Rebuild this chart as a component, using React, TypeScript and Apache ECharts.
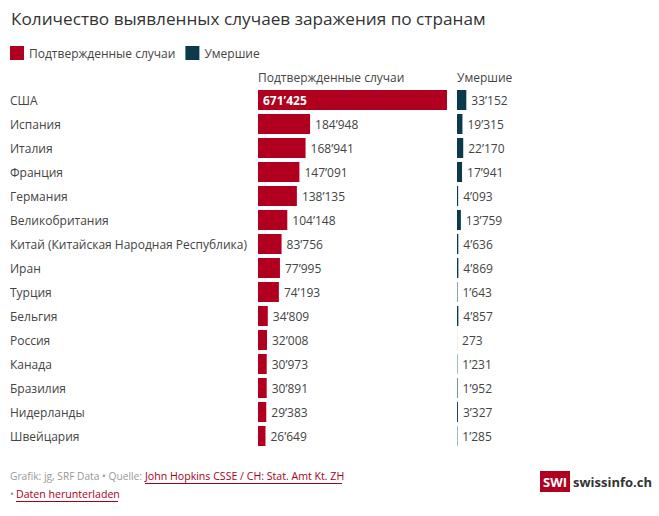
import React, { useEffect, useRef } from "react";
import * as echarts from "echarts";

const countries = [
  "США",
  "Испания",
  "Италия",
  "Франция",
  "Германия",
  "Великобритания",
  "Китай (Китайская Народная Республика)",
  "Иран",
  "Турция",
  "Бельгия",
  "Россия",
  "Канада",
  "Бразилия",
  "Нидерланды",
  "Швейцария",
];
const confirmed = [671425, 184948, 168941, 147091, 138135, 104148, 83756, 77995, 74193, 34809, 32008, 30973, 30891, 29383, 26649];
const deaths = [33152, 19315, 22170, 17941, 4093, 13759, 4636, 4869, 1643, 4857, 273, 1231, 1952, 3327, 1285];

const seriesNames = ["Подтвержденные случаи", "Умершие"];
const title = "Количество выявленных случаев заражения по странам";

const RED = "#b1001f";
const DARK = "#0b3a4b";
const FONT = "'Open Sans', sans-serif";

const fmt = (v: number) => String(v).replace(/\B(?=(\d{3})+(?!\d))/g, "’");

export default function App() {
  const ref = useRef<HTMLDivElement>(null);
  useEffect(() => {
    if (!ref.current) return;
    const chart = echarts.init(ref.current, undefined, { renderer: "svg" });
    const maxVal = Math.max(...confirmed);
    const gridTop = 88;
    const gridH = countries.length * 24;
    const footFont = `10.6px ${FONT}`;
    chart.setOption({
      animation: false,
      textStyle: { fontFamily: FONT },
      title: {
        text: title,
        left: 6,
        top: 5,
        textStyle: { fontFamily: FONT, fontSize: 17.2, fontWeight: "normal", color: "#333" },
      },
      legend: {
        left: 5,
        top: 41,
        itemWidth: 14,
        itemHeight: 14,
        itemGap: 10,
        icon: "rect",
        textStyle: { fontFamily: FONT, fontSize: 12, color: "#444" },
        data: seriesNames,
      },
      grid: [
        { left: 258, top: gridTop, width: 189, height: gridH },
        { left: 457, top: gridTop, width: 189, height: gridH },
      ],
      xAxis: [
        { type: "value", gridIndex: 0, min: 0, max: maxVal, show: false },
        { type: "value", gridIndex: 1, min: 0, max: maxVal, show: false },
      ],
      yAxis: [
        {
          type: "category",
          gridIndex: 0,
          data: countries,
          inverse: true,
          axisLine: { show: false },
          axisTick: { show: false },
          axisLabel: {
            align: "left",
            margin: 248,
            fontFamily: FONT,
            fontSize: 12,
            color: "#444",
          },
        },
        {
          type: "category",
          gridIndex: 1,
          data: countries,
          inverse: true,
          show: false,
        },
      ],
      series: [
        {
          name: seriesNames[0],
          type: "bar",
          xAxisIndex: 0,
          yAxisIndex: 0,
          barWidth: 20,
          itemStyle: { color: RED },
          label: {
            show: true,
            position: "right",
            distance: 5,
            fontFamily: FONT,
            fontSize: 12,
            color: "#444",
            formatter: (p: any) => fmt(p.value),
          },
          data: confirmed.map((v, i) =>
            i === 0
              ? {
                  value: v,
                  label: {
                    position: "insideLeft",
                    distance: 5,
                    color: "#fff",
                    fontWeight: "bold",
                  },
                }
              : v
          ),
        },
        {
          name: seriesNames[1],
          type: "bar",
          xAxisIndex: 1,
          yAxisIndex: 1,
          barWidth: 20,
          itemStyle: { color: DARK },
          label: {
            show: true,
            position: "right",
            distance: 5,
            fontFamily: FONT,
            fontSize: 12,
            color: "#444",
            formatter: (p: any) => fmt(p.value),
          },
          data: deaths,
        },
      ],
      graphic: [
        {
          type: "text",
          left: 258,
          top: 71,
          style: { text: seriesNames[0], font: `12px ${FONT}`, fill: "#444" },
        },
        {
          type: "text",
          left: 457,
          top: 71,
          style: { text: seriesNames[1], font: `12px ${FONT}`, fill: "#444" },
        },
        {
          type: "text",
          x: 10,
          y: 476,
          style: {
            text: "Grafik: jg, SRF Data • Quelle:",
            font: `10.2px ${FONT}`,
            fill: "#999",
            verticalAlign: "middle",
          },
        },
        {
          type: "text",
          x: 145,
          y: 476,
          style: { text: "John Hopkins CSSE / CH: Stat. Amt Kt. ZH", font: footFont, fill: "#a8001c", verticalAlign: "middle" },
        },
        {
          type: "line",
          shape: { x1: 145, y1: 483.5, x2: 342, y2: 483.5 },
          style: { stroke: "#a8001c", lineWidth: 1 },
        },
        {
          type: "text",
          x: 10,
          y: 494,
          style: { text: "•", font: footFont, fill: "#999", verticalAlign: "middle" },
        },
        {
          type: "text",
          x: 16,
          y: 494,
          style: { text: "Daten herunterladen", font: footFont, fill: "#a8001c", verticalAlign: "middle" },
        },
        {
          type: "line",
          shape: { x1: 16, y1: 501.5, x2: 118, y2: 501.5 },
          style: { stroke: "#a8001c", lineWidth: 1 },
        },
        {
          type: "rect",
          shape: { x: 540, y: 471, width: 30, height: 21 },
          style: { fill: "#b1001f" },
        },
        {
          type: "text",
          x: 555,
          y: 481.5,
          style: {
            text: "SWI",
            font: `bold 13px ${FONT}`,
            fill: "#fff",
            align: "center",
            verticalAlign: "middle",
          },
        },
        {
          type: "text",
          x: 573,
          y: 481.5,
          style: {
            text: "swissinfo.ch",
            font: `bold 13px ${FONT}`,
            fill: "#333",
            verticalAlign: "middle",
          },
        },
      ],
    });
    return () => chart.dispose();
  }, []);
  return (
    <div
      ref={ref}
      style={{ position: "fixed", left: 0, top: 0, width: 659, height: 516, background: "#fff" }}
    />
  );
}
